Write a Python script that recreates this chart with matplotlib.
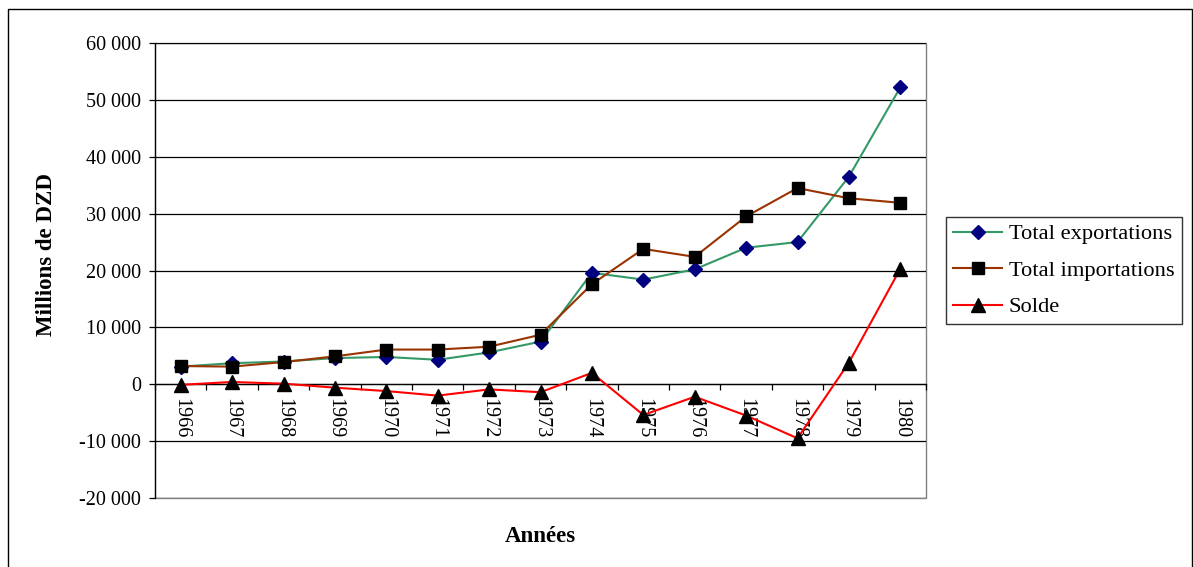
import matplotlib
matplotlib.use("Agg")
import matplotlib.pyplot as plt
from matplotlib.patches import Rectangle
from matplotlib.ticker import FuncFormatter, MultipleLocator

plt.rcParams['font.family'] = ['Liberation Serif', 'DejaVu Serif']

years = ['1966', '1967', '1968', '1969', '1970', '1971', '1972', '1973',
         '1974', '1975', '1976', '1977', '1978', '1979', '1980']
exportations = [3100, 3700, 4000, 4600, 4800, 4300, 5600, 7500,
                19600, 18400, 20200, 24000, 25000, 36500, 52200]
importations = [3200, 3100, 3900, 4900, 6100, 6100, 6600, 8700,
                17600, 23800, 22400, 29500, 34500, 32700, 31900]
solde = [-100, 400, 100, -600, -1200, -2000, -900, -1400,
         2000, -5400, -2200, -5500, -9500, 3800, 20300]

W, H = 1193, 567
fig = plt.figure(figsize=(W / 100, H / 100), dpi=100)
fig.patch.set_facecolor('white')

# outer chart frame
fig.patches.append(Rectangle((8 / W, -0.02), (1192 - 8) / W, 1 - 9 / H + 0.02,
                             transform=fig.transFigure, fill=False,
                             edgecolor='black', linewidth=1.0))

ax = fig.add_axes([155 / W, 1 - 498 / H, 771 / W, 455 / H])
x = list(range(len(years)))

ax.plot(x, exportations, color='#339966', linewidth=1.5, marker='D',
        markersize=7.5, markerfacecolor='#000080', markeredgecolor='#000080',
        label='Total exportations', zorder=4)
ax.plot(x, importations, color='#993300', linewidth=1.5, marker='s',
        markersize=8.5, markerfacecolor='black', markeredgecolor='black',
        label='Total importations', zorder=4)
ax.plot(x, solde, color='#FF0000', linewidth=1.5, marker='^',
        markersize=10, markerfacecolor='black', markeredgecolor='black',
        label='Solde', zorder=4)

ax.set_xlim(-0.5, len(years) - 0.5)
ax.set_ylim(-20000, 60000)

ax.yaxis.set_major_locator(MultipleLocator(10000))
ax.yaxis.set_major_formatter(FuncFormatter(lambda v, p: f"{int(v):,}".replace(',', ' ')))
ax.grid(axis='y', color='black', linewidth=0.9, zorder=1)
ax.set_axisbelow(True)

ax.set_xticks(x)
ax.set_xticklabels(years)
ax.set_xticks([i - 0.5 for i in range(len(years) + 1)], minor=True)
ax.tick_params(axis='x', which='major', length=0, pad=10, labelsize=14.5,
               labelrotation=-90)
ax.tick_params(axis='x', which='minor', direction='out', length=4, width=0.9, color='black')
ax.tick_params(axis='y', direction='out', length=4, width=0.9, pad=6, labelsize=14.5)

for s in ('top', 'right'):
    ax.spines[s].set_visible(False)
ax.spines['bottom'].set_position(('data', 0))
ax.spines['bottom'].set_linewidth(0.9)
ax.spines['left'].set_linewidth(0.9)

# plot-area border
ax.add_patch(Rectangle((0, 0), 1, 1, transform=ax.transAxes, fill=False,
                       edgecolor='#808080', linewidth=1.0, zorder=0.5, clip_on=False))

fig.text(540 / W, 1 - 536 / H, 'Années', ha='center', va='center',
         fontsize=16.5, fontweight='bold')
fig.text(47 / W, 1 - 254 / H, 'Millions de DZD', ha='center', va='center',
         rotation=90, fontsize=16.5, fontweight='bold')

leg = ax.legend(loc='upper left', bbox_to_anchor=(946 / W, 1 - 217 / H),
                bbox_transform=fig.transFigure, frameon=True, fancybox=False,
                fontsize=16.2, handlelength=2.2, handletextpad=0.3,
                labelspacing=0.7, borderpad=0.3, borderaxespad=0)
leg.get_frame().set_edgecolor('black')
leg.get_frame().set_linewidth(1.0)

fig.savefig('out.png', dpi=100, facecolor='white')
